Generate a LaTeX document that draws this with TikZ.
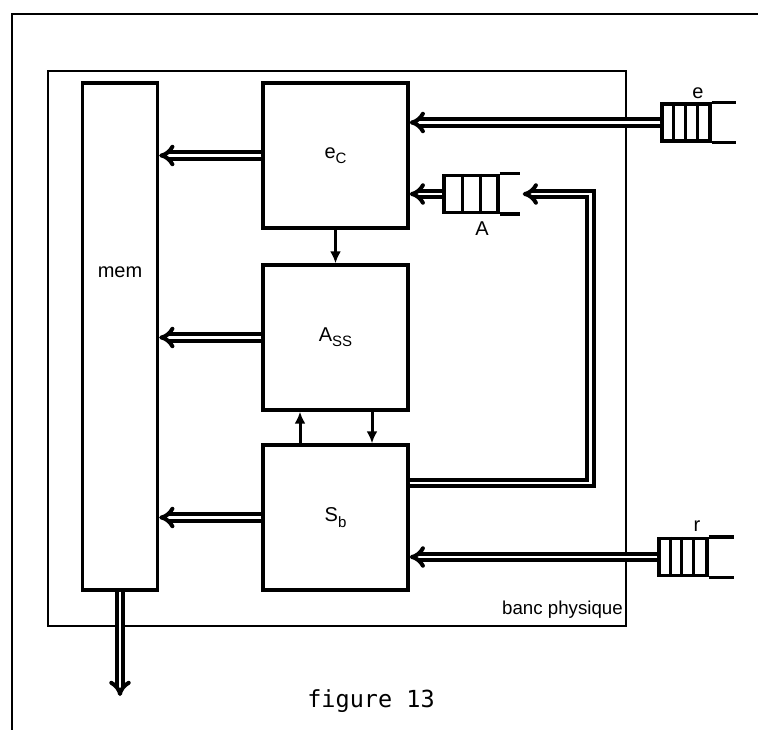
\documentclass[tikz,border=0pt]{standalone}
\usepackage{fontspec}
\setmainfont{Liberation Sans}
\newfontfamily\figfont{DejaVu Sans Mono}
\usetikzlibrary{positioning,arrows.meta}
\newcommand{\lowsub}[1]{\raisebox{-0.5ex}{\fontsize{15}{15}\selectfont #1}}

\begin{document}
\begin{tikzpicture}[x=1pt,y=-1pt,
        block/.style={
            draw,
            line width=3.4pt,
            inner sep=0pt,
            minimum width=145pt,
            minimum height=145pt,
            font=\fontsize{20}{22}\selectfont
        },
        queuebox/.style={
            draw,
            line width=3.4pt,
            inner sep=0pt,
            minimum height=37pt
        },
        frame/.style={line width=1.5pt},
        lbl/.style={font=\fontsize{20}{22}\selectfont, inner sep=0pt},
        dblarrow/.style={double, line width=4pt, double distance=2.6pt, -{Implies[length=9pt,width=19pt]}},
        arrow/.style={-{Latex[length=12pt,width=11pt]}, line width=3pt}
    ]
        \useasboundingbox (0,0) rectangle (758,730);

        % frames
        \draw[frame] (12,730) -- (12,14) -- (758,14);
        \node[draw, frame, inner sep=0pt, minimum width=578pt, minimum height=555pt] (bench) at (337,348.5) {};
        \node[lbl, font=\fontsize{18.7}{20}\selectfont, anchor=base east] (benchlbl) at (623,614) {banc physique};

        % blocks
        \node[block, minimum width=75pt, minimum height=507pt] (mem) at (120,336.5) {};
        \node[lbl, anchor=base] (memlbl) at (120,277) {mem};
        \node[block] (ec) at (335.5,155.5) {e\lowsub{C}};
        \node[block] (ass) at (335.5,337.5) {A\lowsub{SS}};
        \node[block] (sb) at (335.5,517.5) {S\lowsub{b}};

        % queues
        \node[queuebox, minimum width=48pt] (qe) at (686,122.5) {};
        \foreach \dx in {13,25,37} \draw[line width=3pt] ([xshift=\dx pt]qe.north west) -- ([xshift=\dx pt]qe.south west);
        \draw[line width=3.4pt] (qe.north east) -- ++(24,0);
        \draw[line width=3.4pt] (qe.south east) -- ++(24,0);
        \node[lbl, anchor=base] (lble) at (698,99) {e};

        \node[queuebox, minimum width=54pt] (qa) at (471,194) {};
        \foreach \dx in {20,38} \draw[line width=3pt] ([xshift=\dx pt]qa.north west) -- ([xshift=\dx pt]qa.south west);
        \draw[line width=3.4pt] (qa.north east) -- ++(20,0);
        \draw[line width=3.4pt] (qa.south east) -- ++(20,0);
        \node[lbl, anchor=base] (lbla) at (482,236) {A};

        \node[queuebox, minimum width=48pt] (qr) at (683,557) {};
        \foreach \dx in {13,24,36} \draw[line width=3pt] ([xshift=\dx pt]qr.north west) -- ([xshift=\dx pt]qr.south west);
        \draw[line width=3.4pt] (qr.north east) -- ++(25,0);
        \draw[line width=3.4pt] (qr.south east) -- ++(25,0);
        \node[lbl, anchor=base] (lblr) at (697,531) {r};

        % connections
        \draw[dblarrow] (ec.west) -- (ec.west -| mem.east);
        \draw[dblarrow] (ass.west) -- (ass.west -| mem.east);
        \draw[dblarrow] (sb.west) -- (sb.west -| mem.east);
        \coordinate (memout) at (120,696);
        \draw[dblarrow] (mem.south) -- (memout);
        \draw[dblarrow] (qe.west) -- (qe.west -| ec.east);
        \draw[dblarrow] (qa.west) -- (qa.west -| ec.east);
        \draw[dblarrow] (qr.west) -- (qr.west -| sb.east);
        \draw[dblarrow] ([yshift=34.5pt]sb.east) -- ++(181,0) |- ([xshift=23pt]qa.east);

        \draw[arrow] (ec.south) -- (ass.north);
        \draw[arrow] ([xshift=-35.5pt]sb.north) -- ([xshift=-35.5pt]ass.south);
        \draw[arrow] ([xshift=36.5pt]ass.south) -- ([xshift=36.5pt]sb.north);

        \node[font=\figfont\fontsize{23.5}{25}\selectfont, inner sep=0pt, anchor=base] (caption) at (371,707) {figure 13};
    \end{tikzpicture}
\end{document}
